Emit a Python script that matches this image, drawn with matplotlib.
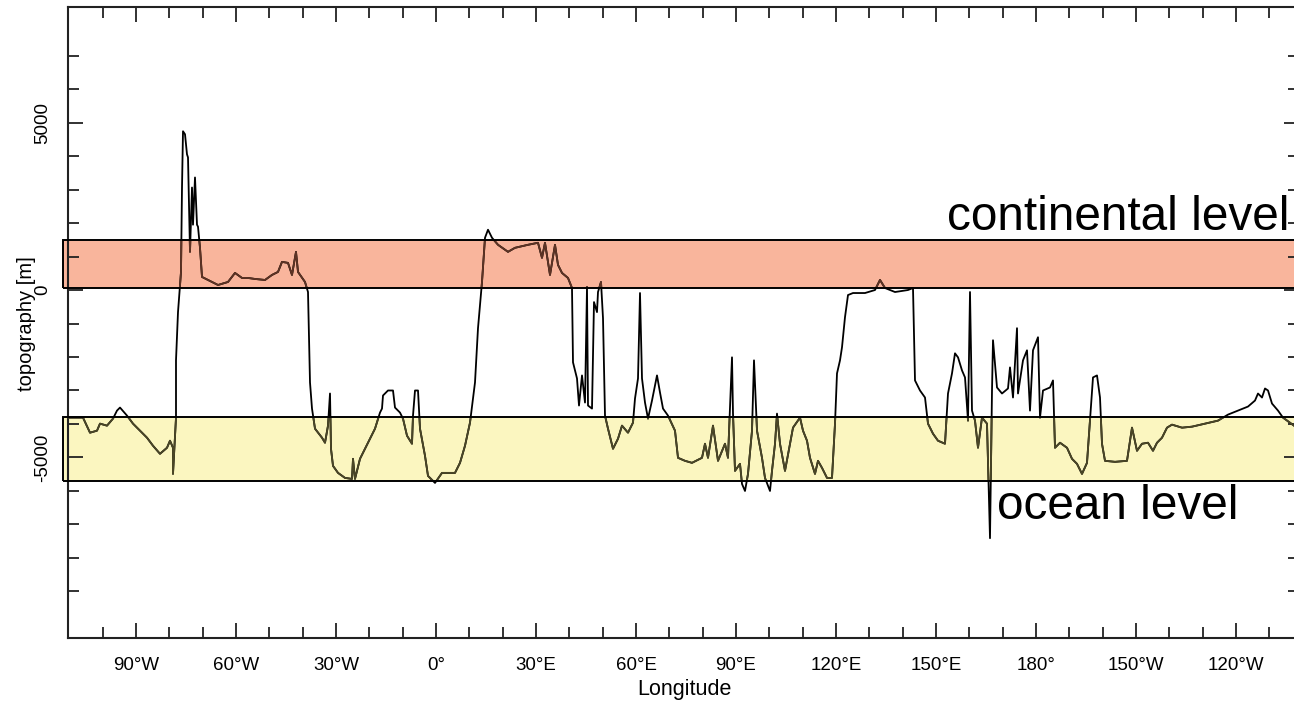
import matplotlib
matplotlib.use('Agg')
import matplotlib.pyplot as plt
from matplotlib.patches import Rectangle
import numpy as np

plt.rcParams['font.family'] = ['Liberation Sans', 'DejaVu Sans']

# topography profile along the section (lon in degrees east, continuous past 180)
lon = [-110.3, -105.9, -103.8, -101.7, -100.8, -98.7, -96.9, -95.7, -94.8, -92.7,
       -90.9, -88.8, -86.7, -84.9, -82.8, -80.7, -79.8, -78.9, -78.9, -78.0,
       -78.0, -77.4, -76.5, -76.2, -75.9, -75.3, -74.7, -74.4, -73.8, -73.2,
       -72.9, -72.3, -71.7, -71.4, -70.8, -70.2, -68.4, -65.4, -62.4, -60.3,
       -58.2, -56.4, -54.3, -51.3, -49.2, -47.4, -46.2, -44.4, -43.2, -42.0,
       -41.4, -39.3, -38.4, -37.8, -37.2, -36.3, -34.2, -33.3, -32.4, -31.8,
       -31.5, -30.9, -29.4, -27.3, -25.2, -24.9, -24.3, -22.8, -21.3, -20.4,
       -18.3, -16.8, -16.2, -15.9, -14.4, -12.9, -12.3, -10.8, -9.9, -8.7,
       -7.2, -6.9, -6.3, -5.4, -4.8, -3.3, -2.4, -0.3, 1.8, 5.7,
       7.2, 8.7, 10.2, 11.7, 12.6, 13.8, 14.7, 15.6, 16.8, 18.6,
       21.6, 23.7, 27.6, 30.6, 31.8, 32.7, 34.2, 35.7, 36.6, 37.8,
       39.6, 40.8, 41.1, 42.3, 42.9, 43.8, 44.7, 45.3, 45.6, 46.8,
       47.4, 48.3, 48.6, 49.5, 50.1, 50.7, 51.6, 53.1, 54.6, 55.8,
       57.6, 59.1, 59.7, 60.6, 61.2, 61.8, 62.7, 63.6, 64.8, 66.3,
       67.2, 68.1, 69.6, 71.7, 72.6, 74.7, 76.8, 79.8, 80.7, 81.6,
       83.1, 84.6, 86.7, 87.6, 88.8, 89.1, 89.7, 91.2, 91.8, 92.7,
       93.6, 94.8, 95.4, 96.3, 97.8, 98.7, 100.2, 100.8, 101.7, 102.3,
       103.2, 104.7, 106.2, 107.1, 109.2, 110.1, 111.3, 112.2, 113.7, 114.6,
       115.8, 117.3, 118.8, 119.7, 120.3, 121.2, 121.8, 122.7, 123.6, 125.1,
       128.7, 131.7, 133.2, 134.7, 137.7, 141.6, 143.1, 143.7, 145.2, 146.7,
       147.6, 149.1, 150.6, 152.7, 153.6, 154.8, 155.7, 156.6, 157.8, 158.7,
       159.6, 160.2, 160.8, 161.7, 162.6, 163.8, 165.3, 166.2, 166.8, 167.1,
       168.3, 169.8, 171.6, 172.2, 173.1, 174.3, 174.6, 176.1, 177.3, 178.2,
       179.1, 180.6, 181.2, 182.1, 184.2, 185.1, 185.7, 187.2, 189.3, 190.8,
       192.3, 193.8, 195.3, 196.2, 197.1, 198.3, 199.2, 199.8, 200.7, 203.7,
       207.3, 208.8, 210.3, 211.8, 213.6, 215.1, 216.3, 217.8, 219.3, 220.8,
       223.8, 226.8, 230.7, 234.6, 237.6, 240.6, 243.6, 245.7, 246.6, 247.8,
       248.7, 249.6, 250.8, 252.6, 254.1, 257.4]
topo = [-3810, -3810, -4260, -4200, -3990, -4050, -3840, -3600, -3510, -3750,
        -3990, -4200, -4410, -4650, -4890, -4710, -4500, -4710, -5490, -3810,
        -2100, -660, 540, 3060, 4740, 4650, 4050, 3960, 1140, 3060,
        1950, 3360, 1950, 1890, 1260, 390, 300, 150, 240, 510,
        360, 360, 330, 300, 450, 540, 840, 810, 450, 1140,
        540, 240, -60, -2760, -3540, -4140, -4410, -4560, -4050, -3090,
        -4740, -5250, -5460, -5610, -5640, -5040, -5640, -5040, -4740, -4560,
        -4140, -3660, -3540, -3150, -3000, -3000, -3510, -3660, -3840, -4350,
        -4590, -3750, -3000, -3000, -4140, -4950, -5550, -5760, -5460, -5460,
        -5160, -4650, -3960, -2760, -1140, 240, 1560, 1800, 1560, 1350,
        1140, 1260, 1350, 1410, 960, 1410, 450, 1350, 750, 510,
        360, 60, -2160, -2640, -3450, -2550, -3360, 90, -3450, -3540,
        -360, -660, -60, 240, -840, -3750, -4140, -4740, -4440, -4050,
        -4260, -3960, -3240, -2640, -90, -2640, -3360, -3840, -3300, -2550,
        -3060, -3540, -3750, -4200, -5010, -5100, -5160, -5010, -4590, -5010,
        -4050, -5100, -4590, -5010, -2010, -3690, -5400, -5190, -5790, -6000,
        -5490, -4200, -2100, -4200, -5010, -5610, -6000, -5400, -4590, -3690,
        -4590, -5400, -4590, -4110, -3810, -4200, -4500, -5010, -5490, -5100,
        -5310, -5610, -5610, -3990, -2490, -2100, -1710, -810, -150, -90,
        -90, 0, 300, 60, -60, 0, 60, -2700, -3000, -3210,
        -3990, -4290, -4500, -4590, -3090, -2490, -1890, -2010, -2400, -2610,
        -3900, -60, -3600, -3900, -4710, -3810, -3990, -7410, -3000, -1500,
        -2910, -3090, -2940, -2310, -3210, -1140, -3090, -2100, -1800, -3600,
        -1800, -1410, -3810, -3000, -2910, -2700, -4710, -4560, -4710, -5040,
        -5190, -5490, -5160, -3900, -2610, -2550, -3210, -4590, -5100, -5130,
        -5100, -4110, -4800, -4590, -4560, -4800, -4560, -4410, -4110, -4020,
        -4110, -4080, -3990, -3900, -3720, -3600, -3480, -3300, -3090, -3210,
        -2940, -3000, -3390, -3600, -3810, -4050]

# reference levels [m]
cont_band = (50, 1500)
ocean_band = (-5700, -3800)

xticks = [-90, -60, -30, 0, 30, 60, 90, 120, 150, 180, 210, 240]
xlabels = ['90°W', '60°W', '30°W', '0°', '30°E', '60°E', '90°E', '120°E',
           '150°E', '180°', '150°W', '120°W']
yticks = [-5000, 0, 5000]
ylabels = ['-5000', '0', '5000']

W, H = 1294, 704
fig = plt.figure(figsize=(W / 100, H / 100), dpi=100)
ax = fig.add_axes([68 / W, 66 / H, 1231 / W, 631 / H])

ax.set_xlim(-110.4, 258.9)
ax.set_ylim(-10390, 8450)

red = '#f9b59c'
yellow = '#fbf6c0'

# band fills under the profile
for (y0, y1), col in [(cont_band, red), (ocean_band, yellow)]:
    ax.add_patch(Rectangle((-111.9, y0), 400, y1 - y0, facecolor=col,
                           edgecolor='none', zorder=1, clip_on=False))

ax.plot(lon, topo, color='black', lw=1.3, zorder=2)

# profile seen through the coloured bands looks darker/tinted
for (y0, y1), col in [(cont_band, '#5e3324'), (ocean_band, '#4a4626')]:
    ln, = ax.plot(lon, topo, color=col, lw=1.3, zorder=3)
    clip = Rectangle((-111.9, y0), 400, y1 - y0, transform=ax.transData)
    ln.set_clip_path(clip)

for (y0, y1) in [cont_band, ocean_band]:
    ax.add_patch(Rectangle((-111.9, y0), 400, y1 - y0, facecolor='none',
                           edgecolor='black', lw=1.4, zorder=4, clip_on=False))

ax.set_xticks(xticks)
ax.set_xticklabels(xlabels)
ax.set_xticks(np.arange(-100, 251, 10), minor=True)
ax.set_yticks(yticks)
ax.set_yticklabels(ylabels, rotation=90, va='center')
ax.set_yticks(np.arange(-9000, 7001, 1000), minor=True)

ax.tick_params(which='both', direction='in', top=True, right=True,
               width=1.3, color='#222222', labelsize=13.5)
ax.tick_params(which='major', length=11)
ax.tick_params(which='minor', length=8)
ax.tick_params(axis='x', which='major', pad=14)
ax.tick_params(axis='y', which='major', pad=12)
for s in ax.spines.values():
    s.set_linewidth(1.5)
    s.set_color('#222222')

fig.text(684 / W, 1 - 690 / H, 'Longitude', ha='center', va='center', fontsize=15.5)
fig.text(26 / W, 1 - 324 / H, 'topography [m]', ha='center', va='center',
         rotation=90, fontsize=14.5)

fig.text(947 / W, 1 - 230 / H, 'continental level', ha='left', va='baseline',
         fontsize=34.4)
fig.text(997 / W, 1 - 519 / H, 'ocean level', ha='left', va='baseline',
         fontsize=34.4)

fig.savefig('out.png', dpi=100)
